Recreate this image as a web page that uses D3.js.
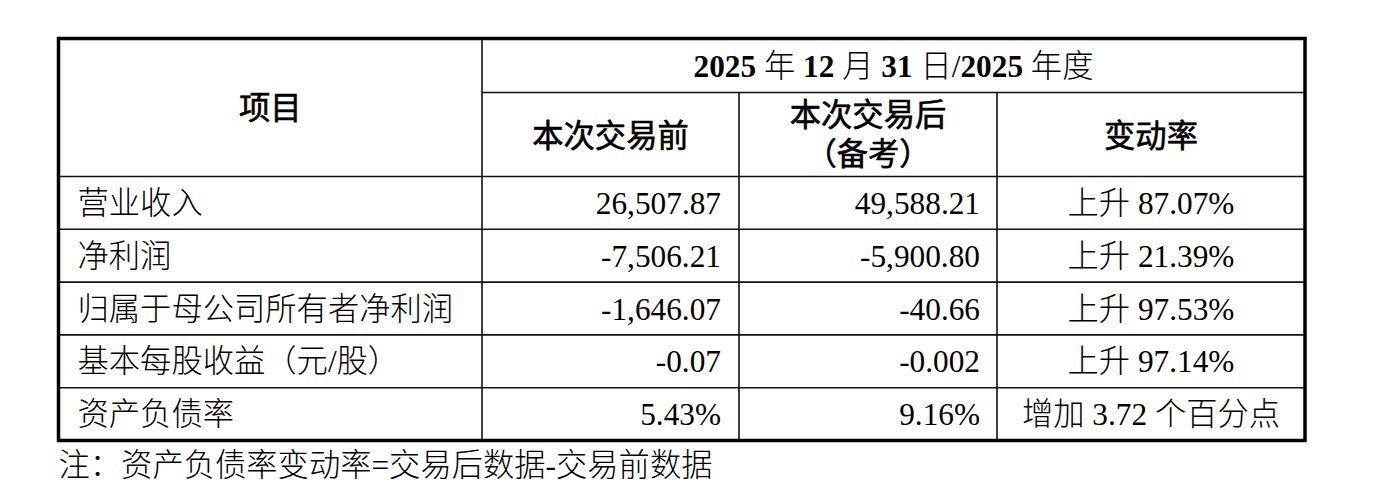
<!DOCTYPE html>
<html>
<head>
<meta charset="utf-8">
<script src="https://cdn.jsdelivr.net/npm/d3@7"></script>
<style>
  html, body { margin: 0; padding: 0; background: #fff; }
  svg { display: block; }
  text { font-family: "Liberation Serif", "Noto Sans CJK SC", serif; font-size: 31.3px; font-weight: 300; fill: #000; }
  .hd { font-weight: normal; stroke: #000; stroke-width: 0.6px; }
</style>
</head>
<body>
<svg id="tbl" width="1376" height="490"></svg>
<script>
// table content
const items = ['营业收入', '净利润', '归属于母公司所有者净利润', '基本每股收益（元/股）', '资产负债率']
const before = ['26,507.87', '-7,506.21', '-1,646.07', '-0.07', '5.43%']
const after = ['49,588.21', '-5,900.80', '-40.66', '-0.002', '9.16%']
const change = ['上升 87.07%', '上升 21.39%', '上升 97.53%', '上升 97.14%', '增加 3.72 个百分点']
const columns = ['项目', '本次交易前', '本次交易后', '变动率']
const period = '2025 年 12 月 31 日/2025 年度'
const note = '注：资产负债率变动率=交易后数据-交易前数据'

const svg = d3.select('#tbl')

// layout
const tblLeft = 58.5
const tblTop = 38.5
const colEdges = [58.5, 482, 739, 997, 1305]
const headSplit = 92.5
const headBottom = 176.5
const tblBottom = 440.5

const rows = items.map((d, i) => ({ item: d, before: before[i], after: after[i], change: change[i] }))

const yRow = d3.scaleBand()
  .domain(d3.range(rows.length))
  .range([headBottom, tblBottom])

const xCol = i => colEdges[i]

// inner lines
const grid = svg.append('g').attr('stroke', '#111').attr('stroke-width', 1.6)

// horizontal lines between data rows (and header bottom)
grid.selectAll('line.h')
  .data(d3.range(rows.length))
  .enter()
  .append('line')
  .attr('x1', tblLeft)
  .attr('x2', colEdges[4])
  .attr('y1', i => yRow(i))
  .attr('y2', i => yRow(i))

// header split line under the period title
grid.append('line')
  .attr('x1', colEdges[1]).attr('x2', colEdges[4])
  .attr('y1', headSplit).attr('y2', headSplit)

// vertical column lines
grid.selectAll('line.v')
  .data([1, 2, 3])
  .enter()
  .append('line')
  .attr('x1', xCol)
  .attr('x2', xCol)
  .attr('y1', i => (i === 1 ? tblTop : headSplit))
  .attr('y2', tblBottom)

// outer border
svg.append('rect')
  .attr('x', tblLeft)
  .attr('y', tblTop)
  .attr('width', colEdges[4] - tblLeft)
  .attr('height', tblBottom - tblTop)
  .attr('fill', 'none')
  .attr('stroke', '#000')
  .attr('stroke-width', 3.5)

// header text
const mid = (a, b) => (a + b) / 2

const title = svg.append('text')
  .attr('x', mid(colEdges[1], colEdges[4]))
  .attr('y', mid(tblTop, headSplit) + 11)
  .attr('text-anchor', 'middle')
// numbers in bold, CJK regular
period.split(/(\d+)/).filter(s => s).forEach(s => {
  title.append('tspan')
    .attr('font-weight', /\d/.test(s) ? 'bold' : 300)
    .text(s)
})

svg.append('text')
  .attr('class', 'hd')
  .attr('x', mid(colEdges[0], colEdges[1]))
  .attr('y', mid(tblTop, headBottom) + 11)
  .attr('text-anchor', 'middle')
  .text(columns[0])

svg.append('text')
  .attr('class', 'hd')
  .attr('x', mid(colEdges[1], colEdges[2]))
  .attr('y', mid(headSplit, headBottom) + 12)
  .attr('text-anchor', 'middle')
  .text(columns[1])

const h2 = svg.append('text')
  .attr('class', 'hd')
  .attr('text-anchor', 'middle')
h2.append('tspan')
  .attr('x', mid(colEdges[2], colEdges[3]))
  .attr('y', 126)
  .text(columns[2])
h2.append('tspan')
  .attr('x', mid(colEdges[2], colEdges[3]))
  .attr('y', 165)
  .text('（备考）')

svg.append('text')
  .attr('class', 'hd')
  .attr('x', mid(colEdges[3], colEdges[4]))
  .attr('y', mid(headSplit, headBottom) + 12)
  .attr('text-anchor', 'middle')
  .text(columns[3])

// body rows
const rowG = svg.selectAll('g.row')
  .data(rows)
  .enter()
  .append('g')
  .attr('class', 'row')
  .attr('transform', (d, i) => `translate(0, ${yRow(i) + yRow.bandwidth() / 2 + 11})`)

rowG.append('text')
  .attr('x', colEdges[0] + 19)
  .text(d => d.item)

rowG.append('text')
  .attr('x', colEdges[2] - 18)
  .attr('text-anchor', 'end')
  .text(d => d.before)

rowG.append('text')
  .attr('x', colEdges[3] - 17)
  .attr('text-anchor', 'end')
  .text(d => d.after)

rowG.append('text')
  .attr('x', mid(colEdges[3], colEdges[4]))
  .attr('text-anchor', 'middle')
  .text(d => d.change)

// footnote
svg.append('text')
  .attr('x', tblLeft)
  .attr('y', 476)
  .text(note)
</script>
</body>
</html>
